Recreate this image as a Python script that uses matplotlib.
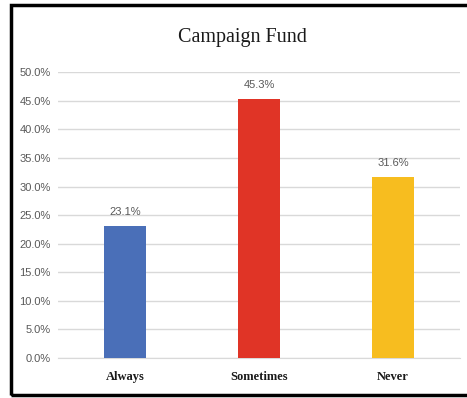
import matplotlib.pyplot as plt
from matplotlib.patches import Rectangle
from matplotlib.ticker import PercentFormatter

# Survey responses for campaign fund contributions
categories = ['Always', 'Sometimes', 'Never']
shares = [23.1, 45.3, 31.6]
colors = ['#4a6fb8', '#e03426', '#f7bd1f']
y_ticks = [0, 5, 10, 15, 20, 25, 30, 35, 40, 45, 50]

fig = plt.figure(figsize=(4.67, 3.98), dpi=100)
ax = fig.add_axes([0.124, 0.1005, 0.861, 0.718])

x = list(range(len(categories)))
ax.bar(x, shares, width=0.31, color=colors, zorder=3)

for xi, v in zip(x, shares):
    ax.text(xi, v + 1.6, f'{v:.1f}%', ha='center', va='bottom',
            fontsize=8, color='#595959', family='Liberation Sans')

ax.set_xlim(-0.5, 2.5)
ax.set_ylim(0, 50)
ax.set_yticks(y_ticks)
ax.yaxis.set_major_formatter(PercentFormatter(decimals=1))
ax.yaxis.grid(True, color='#d9d9d9', linewidth=1, zorder=0)
ax.set_xticks(x)
ax.set_xticklabels(categories, family='Liberation Serif', fontweight='bold',
                   fontsize=9, color='#1a1a1a')
ax.tick_params(axis='y', length=0, pad=5, labelsize=8, labelcolor='#595959')
ax.tick_params(axis='x', length=0, pad=9)
for lbl in ax.get_yticklabels():
    lbl.set_family('Liberation Sans')
for side in ['top', 'right', 'left']:
    ax.spines[side].set_visible(False)
ax.spines['bottom'].set_color('#d9d9d9')

fig.text(0.52, 0.905, 'Campaign Fund', ha='center', va='center',
         fontsize=14.5, family='Liberation Serif', color='#1a1a1a')

# Chart frame, running off the right edge
fig.add_artist(Rectangle((0.024, 0.008), 1.05, 0.98, transform=fig.transFigure,
                         fill=False, edgecolor='black', linewidth=2.5,
                         clip_on=False))

fig.savefig('out.png', dpi=100)
